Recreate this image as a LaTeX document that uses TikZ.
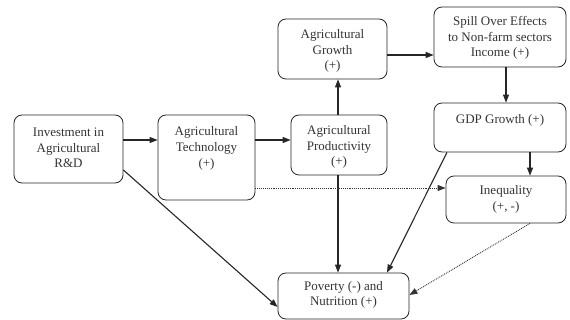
\documentclass[tikz,border=0pt]{standalone}
\usepackage{fontspec}
\setmainfont{Liberation Serif}
\usetikzlibrary{arrows.meta}
\begin{document}
\begin{tikzpicture}[x=1pt,y=-1pt,
  box/.style={draw=black!85,line width=0.8pt,rounded corners=8pt,inner sep=0pt},
  txt/.style={align=center,inner sep=0pt,text=black!80,font=\fontsize{13}{15.7}\selectfont},
  arr/.style={line width=1.1pt,draw=black!85,-{Triangle[length=8pt,width=6pt]}},
  dotarr/.style={line width=0.9pt,draw=black!80,densely dotted,-{Triangle[length=8pt,width=6pt]}}]
\useasboundingbox (0,0) rectangle (570,320);
% boxes
\node[box,minimum width=109pt,minimum height=68pt] (b1) at (68.5,149) {};
\node[box,minimum width=97pt,minimum height=85pt] (b2) at (206.5,157.5) {};
\node[box,minimum width=96pt,minimum height=60pt] (b3) at (339,145) {};
\node[box,minimum width=109pt,minimum height=60pt] (b4) at (332.5,49) {};
\node[box,minimum width=132pt,minimum height=60pt] (b5) at (500,37) {};
\node[box,minimum width=132pt,minimum height=49pt] (b6) at (500,127.5) {};
\node[box,minimum width=120pt,minimum height=47pt] (b7) at (506,199.5) {};
\node[box,minimum width=131pt,minimum height=46pt] (b8) at (343.5,296) {};
% texts
\node[txt] (t1) at (68.5,148) {Investment in\\Agricultural\\R\&D};
\node[txt] (t2) at (206.5,148.5) {Agricultural\\Technology\\(+)};
\node[txt] (t3) at (339,147) {Agricultural\\Productivity\\(+)};
\node[txt] (t4) at (332.5,51) {Agricultural\\Growth\\(+)};
\node[txt] (t5) at (500,38) {Spill Over Effects\\to Non-farm sectors\\Income (+)};
\node[txt] (t6) at (500,120) {GDP Growth (+)};
\node[txt] (t7) at (506,199.5) {Inequality\\(+, -)};
\node[txt] (t8) at (343.5,295) {Poverty (-) and\\Nutrition (+)};
% arrows
\draw[arr] (b1.east |- 0,140) -- (b2.west |- 0,140);
\draw[arr] (b2.east |- 0,140) -- (b3.west |- 0,140);
\draw[arr] (b3.north -| 338,0) -- (b4.south -| 338,0);
\draw[arr] (b4.east |- 0,55) -- (b5.west |- 0,55);
\draw[arr] (b5.south -| 506,0) -- (b6.north -| 506,0);
\draw[arr] (b6.south -| 530,0) -- (b7.north -| 530,0);
\draw[arr] (b3.south -| 338,0) -- (b8.north -| 338,0);
\draw[arr] (b6.south -| 447,0) -- (b8.north -| 387,0);
\draw[arr] (b1.east |- 0,170) -- (b8.west |- 0,307);
\draw[dotarr] (b2.east |- 0,188) -- (b7.west |- 0,188);
\draw[dotarr] (b7.south -| 530,0) -- (b8.east |- 0,295);
\end{tikzpicture}
\end{document}
